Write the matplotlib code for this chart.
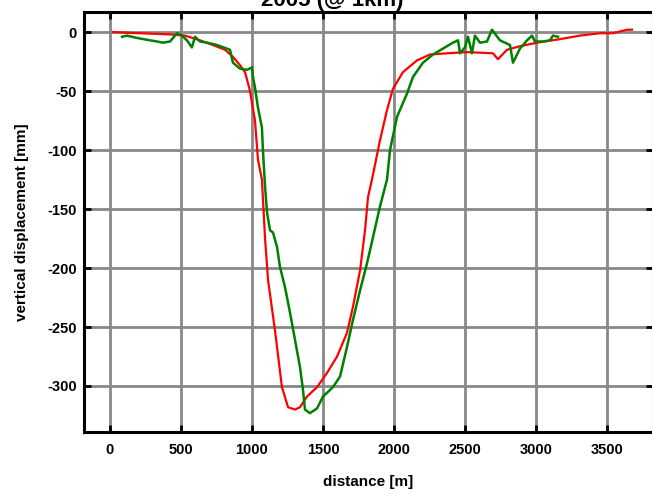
import matplotlib
matplotlib.use("Agg")
import matplotlib.pyplot as plt

# Profile positions along the section [m] and vertical displacement [mm]
red_distance = [21, 211, 423, 528, 634, 725, 810, 866, 915, 951, 986, 1021, 1042,
                1070, 1092, 1113, 1162, 1211, 1254, 1303, 1338, 1387, 1458, 1528,
                1599, 1669, 1711, 1761, 1796, 1817, 1845, 1901, 1951, 1993, 2063,
                2162, 2254, 2373, 2514, 2697, 2732, 2796, 2887, 3007, 3169, 3310,
                3451, 3542, 3641, 3676]
red_displacement = [0, -1, -2, -3, -7, -11, -15, -21, -28, -34, -50, -75, -108,
                    -125, -175, -210, -253, -301, -318, -320, -318, -309, -301, -289,
                    -275, -255, -233, -202, -168, -140, -125, -92, -66, -48, -34,
                    -24, -19, -18, -17, -18, -23, -15, -12, -9, -6, -3,
                    -1, -1, 2, 2]

green_distance = [85, 120, 190, 282, 331, 373, 423, 472, 507, 542, 577, 599, 634,
                  683, 754, 845, 866, 915, 965, 1000, 1007, 1021, 1042, 1070, 1077,
                  1092, 1106, 1127, 1148, 1176, 1197, 1232, 1268, 1303, 1338, 1359,
                  1373, 1408, 1458, 1500, 1570, 1620, 1669, 1711, 1761, 1810, 1852,
                  1901, 1951, 1972, 2021, 2092, 2134, 2204, 2275, 2345, 2415, 2451,
                  2465, 2500, 2521, 2549, 2570, 2606, 2655, 2690, 2746, 2817, 2838,
                  2887, 2937, 2972, 2993, 3049, 3099, 3120, 3155]
green_displacement = [-4, -3, -5, -7, -8, -9, -8, -1, -3, -7, -13, -4, -8,
                      -9, -11, -15, -26, -31, -32, -30, -38, -47, -64, -81, -100,
                      -131, -153, -168, -170, -182, -199, -216, -238, -261, -284, -303,
                      -320, -323, -319, -309, -301, -292, -267, -244, -219, -196, -174,
                      -148, -125, -100, -72, -52, -38, -26, -19, -14, -9, -7,
                      -18, -13, -4, -18, -3, -9, -8, 2, -7, -11, -26,
                      -14, -7, -3, -8, -8, -7, -3, -4]

x_ticks = [0, 500, 1000, 1500, 2000, 2500, 3000, 3500]
y_ticks = [0, -50, -100, -150, -200, -250, -300]

plt.rcParams["font.family"] = ["Liberation Sans", "DejaVu Sans"]
plt.rcParams["font.weight"] = "bold"

fig = plt.figure(figsize=(6.52, 4.94), dpi=100)
W, H = 652, 494
left, right, top, bottom = 84, 653, 12, 432
ax = fig.add_axes([left / W, (H - bottom) / H, (right - left) / W, (bottom - top) / H])

ax.plot(red_distance, red_displacement, color="#ff0000", lw=1.6, zorder=3)
ax.plot(green_distance, green_displacement, color="#008000", lw=1.8, zorder=4)

ax.set_xlim(-183, 3824)
ax.set_ylim(-339, 17)
ax.set_xticks(x_ticks)
ax.set_yticks(y_ticks)
ax.set_xticklabels([str(v) for v in x_ticks], fontsize=10.5, fontweight="bold")
ax.set_yticklabels([str(v) for v in y_ticks], fontsize=10.5, fontweight="bold")

ax.grid(True, color="#888888", lw=2.0, zorder=1)
ax.set_axisbelow(True)
for s in ax.spines.values():
    s.set_linewidth(2.2)
    s.set_color("black")
ax.tick_params(axis="both", direction="in", length=5, width=2,
               top=True, right=True, color="black")
ax.tick_params(axis="x", pad=8)
ax.tick_params(axis="y", pad=5)

ax.set_xlabel("distance [m]", fontsize=11, fontweight="bold", labelpad=13)
ax.set_ylabel("vertical displacement [mm]", fontsize=11, fontweight="bold", labelpad=13)

fig.text(332 / W, (H - 6) / H, "2005 (@ 1km)", ha="center", va="baseline",
         fontsize=16, fontweight="bold")

fig.savefig("out.png", dpi=100)
